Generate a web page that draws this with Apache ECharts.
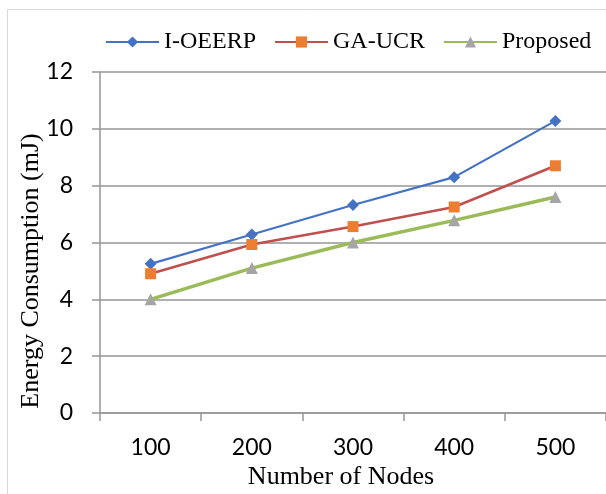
<!DOCTYPE html>
<html>
<head>
<meta charset="utf-8">
<script src="https://cdn.jsdelivr.net/npm/echarts@6/dist/echarts.min.js"></script>
<style>
    html, body { margin: 0; padding: 0; background: #fff; }
    #chart { width: 606px; height: 494px; }
</style>
</head>
<body>
<div id="chart"></div>
<script>
    // data
    var nodes = ['100', '200', '300', '400', '500'];
    var ioeerp = [5.25, 6.28, 7.32, 8.3, 10.28];
    var gaucr = [4.9, 5.93, 6.56, 7.25, 8.7];
    var proposed = [4.0, 5.1, 6.0, 6.78, 7.6];

    var serif = '"Liberation Serif", "Times New Roman", serif';
    var sans = 'Lato, "Open Sans", sans-serif';
    var gridColor = '#969696';

    var chart = echarts.init(document.getElementById('chart'));
    chart.setOption({
        animation: false,
        graphic: [
            {
                type: 'rect',
                shape: { x: 7.5, y: 9.5, width: 640, height: 520 },
                style: { fill: 'none', stroke: '#d9d9d9', lineWidth: 1 }
            },
            // axis titles sit a little off centre in the original, so place them by hand
            {
                type: 'text',
                x: 31,
                y: 271,
                rotation: Math.PI / 2,
                style: {
                    text: 'Energy Consumption (mJ)',
                    font: '26px ' + serif,
                    fill: '#000',
                    align: 'center',
                    verticalAlign: 'middle'
                }
            },
            {
                type: 'text',
                x: 341,
                y: 477,
                style: {
                    text: 'Number of Nodes',
                    font: '26px ' + serif,
                    fill: '#000',
                    align: 'center',
                    verticalAlign: 'middle'
                }
            }
        ],
        legend: {
            left: 100,
            top: 25,
            itemWidth: 53,
            itemHeight: 14,
            itemGap: 18,
            textStyle: { fontFamily: serif, fontSize: 24, color: '#000' },
            data: ['I-OEERP', 'GA-UCR', 'Proposed']
        },
        grid: {
            left: 100,
            top: 72,
            width: 510,
            height: 341
        },
        xAxis: {
            type: 'category',
            data: nodes,
            boundaryGap: true,
            axisLine: { lineStyle: { color: gridColor, width: 1.5 } },
            axisTick: { show: true, length: 8, alignWithLabel: false, lineStyle: { color: gridColor, width: 1.5 } },
            axisLabel: { margin: 23, fontFamily: sans, fontSize: 23, color: '#000' }
        },
        yAxis: {
            type: 'value',
            min: 0,
            max: 12,
            interval: 2,
            axisLine: { show: true, lineStyle: { color: gridColor, width: 1.5 } },
            axisTick: { show: true, length: 8, lineStyle: { color: gridColor, width: 1.5 } },
            axisLabel: { margin: 27, fontFamily: sans, fontSize: 23, color: '#000' },
            splitLine: { lineStyle: { color: gridColor, width: 1.5 } }
        },
        series: [
            {
                name: 'I-OEERP',
                type: 'line',
                data: ioeerp,
                symbol: 'diamond',
                symbolSize: 12,
                lineStyle: { color: '#4472C4', width: 2.25 },
                itemStyle: { color: '#4472C4' }
            },
            {
                name: 'GA-UCR',
                type: 'line',
                data: gaucr,
                symbol: 'rect',
                symbolSize: 11,
                lineStyle: { color: '#C0504D', width: 2.5 },
                itemStyle: { color: '#ED7D31' }
            },
            {
                name: 'Proposed',
                type: 'line',
                data: proposed,
                symbol: 'triangle',
                symbolSize: 12,
                lineStyle: { color: '#9BBB59', width: 3.5 },
                itemStyle: { color: '#A5A5A5' }
            }
        ]
    });
</script>
</body>
</html>
